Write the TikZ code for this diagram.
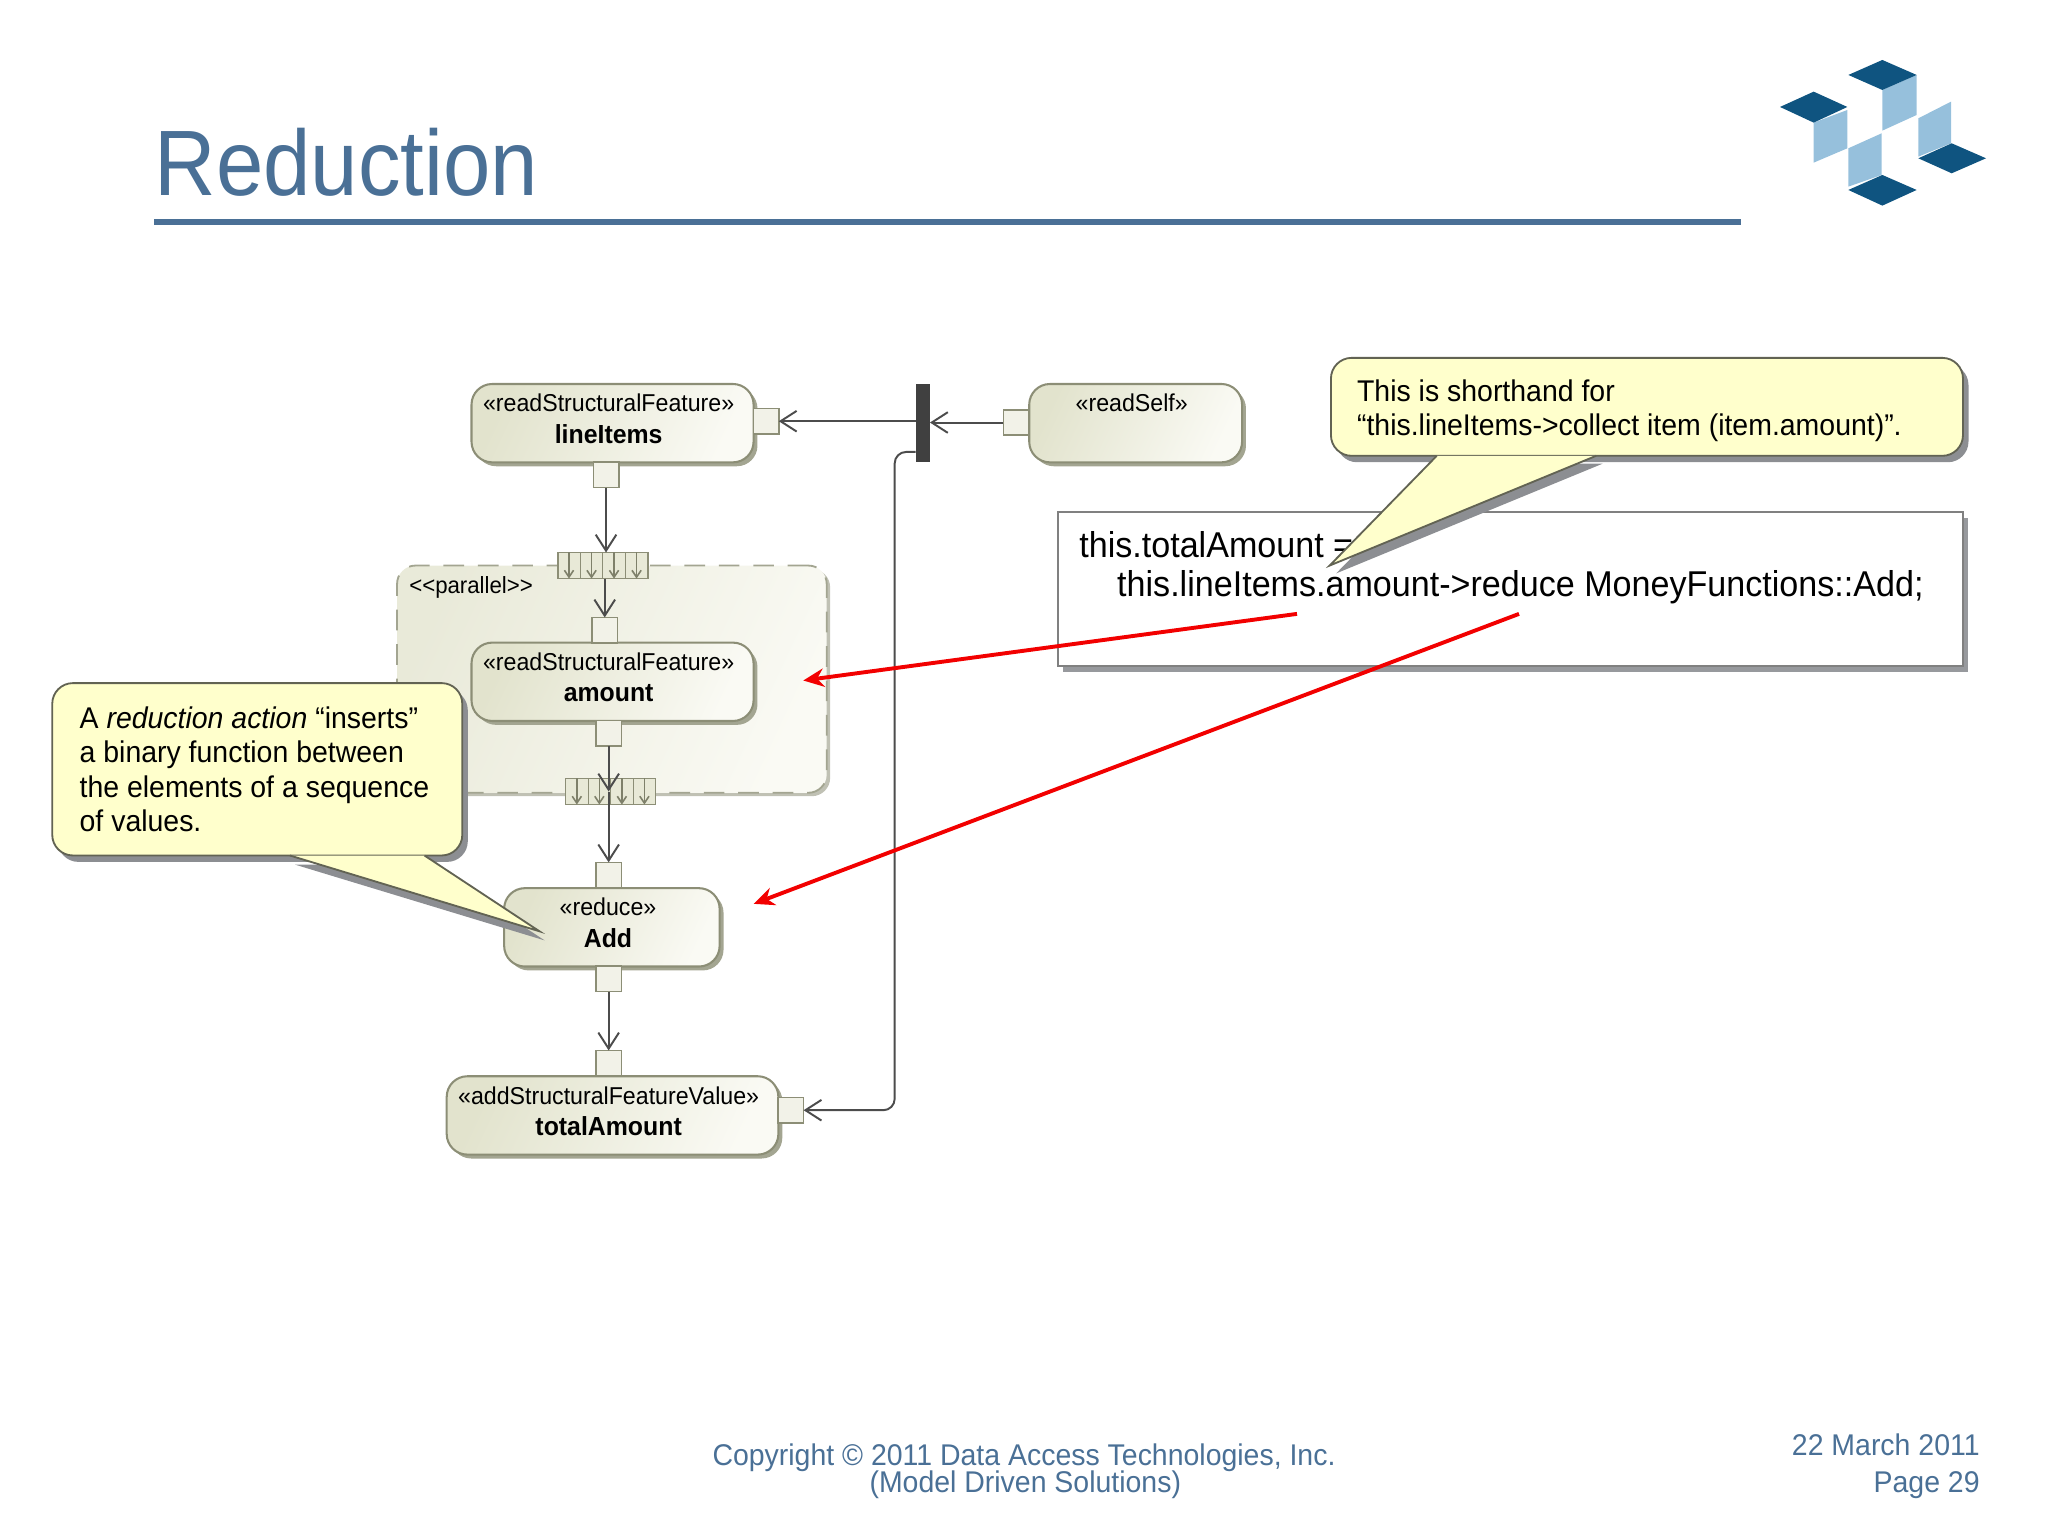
\documentclass[tikz,border=0pt]{standalone}
\usepackage{xcolor}
\usepackage{fontspec}
\setmainfont[FakeStretch=0.95]{Liberation Sans}
\newfontfamily\titlefont[FakeStretch=0.916]{Liberation Sans}
\usetikzlibrary{arrows.meta,calc,shadows}
\definecolor{slideblue}{RGB}{74,112,150}
\definecolor{actionedge}{RGB}{140,142,118}
\definecolor{actionleft}{RGB}{226,227,205}
\definecolor{actionright}{RGB}{250,250,244}
\definecolor{noteyellow}{RGB}{255,255,204}
\definecolor{notegray}{RGB}{140,142,146}
\definecolor{logodark}{RGB}{15,84,128}
\definecolor{logolight}{RGB}{150,192,220}
\tikzset{
    actionbox/.style={draw=actionedge, line width=0.9pt, left color=actionleft, right color=actionright,
        shading angle=65, rounded corners=9pt, inner sep=0pt, outer sep=0pt, minimum height=1.2cm,
        drop shadow={shadow xshift=1.7pt, shadow yshift=-1.7pt, opacity=1, fill=actionedge!80},
        align=center, anchor=north west, font=\fontsize{10.63}{13.6}\selectfont},
    pinbox/.style={draw=actionedge, line width=0.7pt, fill=actionleft!45, inner sep=0pt, outer sep=0pt, minimum size=0.39cm},
    expansionbox/.style={draw=actionedge, line width=0.7pt, fill=actionleft!80, inner sep=0pt, outer sep=0pt,
        minimum width=1.38cm, minimum height=0.4cm},
    regionbox/.style={draw=actionedge!80, dash pattern=on 9pt off 6pt, line width=0.8pt, left color=actionleft!75, right color=actionright,
        shading angle=65, rounded corners=8pt, inner sep=0pt, outer sep=0pt, minimum width=6.58cm, minimum height=3.48cm,
        drop shadow={shadow xshift=1.5pt, shadow yshift=-1.5pt, opacity=1, fill=actionedge!55}},
    flow/.style={draw=black!70, line width=0.85pt, -{Straight Barb[length=7pt,width=9pt]}},
    cellarrow/.style={draw=actionedge!90!black, line width=0.7pt, -{Straight Barb[length=3pt,width=4pt]}},
    redarrow/.style={draw=red!95!black, line width=1.7pt, -{Stealth[length=9pt,width=8pt]}},
    notebody/.style={draw=actionedge!70!black, line width=0.8pt, fill=noteyellow, rounded corners=9pt, anchor=north west,
        inner sep=0pt, outer sep=0pt, drop shadow={shadow xshift=2.4pt, shadow yshift=-2.8pt, opacity=1, fill=notegray},
        align=flush left, font=\fontsize{13.05}{15}\selectfont},
    tailshadow/.style={fill=notegray, draw=none},
    codeline/.style={anchor=base west, inner sep=0pt, font=\fontsize{15.64}{18}\selectfont},
    footer/.style={inner sep=0pt, text=slideblue, font=\fontsize{13.05}{14}\selectfont}
}
\newcommand{\stereotype}[1]{«#1»\hspace*{3.4pt}}
\newcommand{\actionname}[1]{{\fontsize{11.4}{13.6}\selectfont\textbf{#1}}\hspace*{3.4pt}\rule[-4pt]{0pt}{4pt}}
\newcommand{\expansioncells}[1]{
    \foreach \k in {0.25,0.5,0.75}
        \draw[draw=actionedge, line width=0.5pt] ($(#1.north west)!\k!(#1.north east)$) -- ($(#1.south west)!\k!(#1.south east)$);
    \foreach \k in {0.125,0.375,0.625,0.875}
        \draw[cellarrow] ($(#1.north west)!\k!(#1.north east)$) -- ($(#1.south west)!\k!(#1.south east)$);
}
\begin{document}
\begin{tikzpicture}[x=0.02cm, y=-0.02cm]
    \useasboundingbox (0,0) rectangle (1568,1176);

    % Titel
    \node[anchor=base west, inner sep=0pt, text=slideblue, font=\titlefont\fontsize{40.5}{44}\selectfont] (title) at (118,150) {Reduction};
    \draw[slideblue, line width=2.8pt] (118,170) -- (1333,170);

    % Logo
    \begin{scope}[shift={(1347.5,30.6)}, scale=0.2552]
        \fill[logolight] (367,150) -- (470,105) -- (470,225) -- (367,272) -- cycle;
        \fill[logolight] (161,248) -- (262,210) -- (262,325) -- (161,368) -- cycle;
        \fill[logolight] (265,325) -- (365,280) -- (365,405) -- (265,440) -- cycle;
        \fill[logolight] (475,235) -- (573,185) -- (573,310) -- (475,350) -- cycle;
        \fill[logodark] (265,105) -- (367,60) -- (470,105) -- (367,150) -- cycle;
        \fill[logodark] (60,201) -- (161,155) -- (262,201) -- (161,248) -- cycle;
        \fill[logodark] (475,355) -- (575,310) -- (678,355) -- (575,400) -- cycle;
        \fill[logodark] (265,450) -- (367,405) -- (470,450) -- (367,497) -- cycle;
    \end{scope}

    % Bereich parallel
    \node[regionbox, anchor=north west] (region) at (304,433) {};
    \node[anchor=west, inner sep=0pt, font=\fontsize{10.2}{12}\selectfont] (regionlabel) at (313,450) {<{}<parallel>{}>};

    % Aktionen
    \node[actionbox, minimum width=4.32cm] (lineitems) at (361,294) {\stereotype{readStructuralFeature}\\\actionname{lineItems}};
    \node[actionbox, minimum width=3.26cm] (readself) at (788,294) {\stereotype{readSelf}\\\actionname{\phantom{x}}};
    \node[actionbox, minimum width=4.32cm] (amount) at (361,492) {\stereotype{readStructuralFeature}\\\actionname{amount}};
    \node[actionbox, minimum width=3.3cm] (reduce) at (386,680) {\stereotype{reduce}\\\actionname{Add}};
    \node[actionbox, minimum width=5.08cm] (addvalue) at (342,824) {\stereotype{addStructuralFeatureValue}\\\actionname{totalAmount}};

    % Pins
    \node[pinbox] (linepin) at (586.5,322.5) {};
    \node[pinbox] (lineout) at (464,363.5) {};
    \node[pinbox] (selfpin) at (778,323.5) {};
    \node[pinbox] (amountin) at (463,482.5) {};
    \node[pinbox] (amountout) at (466,561.5) {};
    \node[pinbox] (reducein) at (466,670) {};
    \node[pinbox] (reduceout) at (466,749.5) {};
    \node[pinbox] (addin) at (466,814) {};
    \node[pinbox] (addpin) at (605.5,850) {};

    % Expansion
    \node[expansionbox] (extop) at (461.5,433) {};
    \node[expansionbox] (exbottom) at (467.5,606) {};
    \expansioncells{extop}
    \expansioncells{exbottom}

    % Join
    \node[fill=black!75, inner sep=0pt, outer sep=0pt, minimum width=0.22cm, minimum height=1.2cm] (joinbar) at (706.5,324) {};
    \coordinate (joinout) at (701,346);

    % Pfeile
    \draw[flow] (selfpin.west) -- (joinbar.east |- selfpin.west);
    \draw[flow] (joinbar.west |- linepin.east) -- (linepin.east);
    \draw[flow, rounded corners=5pt] (joinout) -- ++(-16,0) |- (addpin.east);
    \draw[flow] (lineout.south) -- (lineout.south |- extop.north);
    \draw[flow] (extop.south -| amountin.north) -- (amountin.north);
    \draw[flow] (amountout.south) -- (amountout.south |- exbottom.center);
    \draw[flow] (exbottom.center -| reducein.north) -- (reducein.north);
    \draw[flow] (reduceout.south) -- (addin.north);

    % Code
    \node[draw=black!50, line width=0.9pt, fill=white, inner sep=0pt, outer sep=0pt, minimum width=13.86cm, minimum height=2.36cm,
        anchor=north west, drop shadow={shadow xshift=2.4pt, shadow yshift=-2.4pt, opacity=1, fill=notegray!90}] (codebox) at (810,392) {};
    \node[codeline] (codeone) at (826,427) {this.totalAmount =};
    \node[codeline] (codetwo) at (855,457) {this.lineItems.amount->reduce MoneyFunctions::Add;};

    % Hinweis rechts
    \fill[tailshadow] (1105,355) -- (1227,355) -- (1023,439) -- cycle;
    \node[notebody, text width=9.68cm, minimum height=1.5cm] (shorthand) at (1019,274) {\rule{0pt}{13pt}\hspace*{0.4cm}This is shorthand for\\\hspace*{0.4cm}“this.lineItems->collect item (item.amount)”.};
    \coordinate (shorthandtip) at (1018,433);
    \coordinate (shorthanda) at (1100,349);
    \coordinate (shorthandb) at (1222,349);
    \fill[noteyellow] (shorthanda) -- (shorthandb) -- (shorthandtip) -- cycle;
    \draw[draw=actionedge!70!black, line width=0.8pt] (shorthanda) -- (shorthandtip) -- (shorthandb);

    % Hinweis links
    \fill[tailshadow] (226,662) -- (329,662) -- (417,720) -- cycle;
    \node[notebody, text width=6.28cm, minimum height=2.64cm] (reduction) at (40,523) {\hspace*{0.42cm}A \textit{reduction action} “inserts”\\\hspace*{0.42cm}a binary function between\\\hspace*{0.42cm}the elements of a sequence\\\hspace*{0.42cm}of values.};
    \coordinate (reductiontip) at (413,713);
    \coordinate (reductiona) at (222,655);
    \coordinate (reductionb) at (325,655);
    \fill[noteyellow] (reductiona) -- (reductionb) -- (reductiontip) -- cycle;
    \draw[draw=actionedge!70!black, line width=0.8pt] (reductiona) -- (reductiontip) -- (reductionb);

    % Rote Pfeile
    \coordinate (redone) at (993,470);
    \coordinate (redonetip) at (615,521);
    \coordinate (redtwo) at (1163,470);
    \coordinate (redtwotip) at (577,692);
    \draw[redarrow] (redone) -- (redonetip);
    \draw[redarrow] (redtwo) -- (redtwotip);

    % Fusszeile
    \node[footer] (copyone) at (784,1116) {Copyright © 2011 Data Access Technologies, Inc.};
    \node[footer] (copytwo) at (785,1137) {(Model Driven Solutions)};
    \node[footer, anchor=east] (datenote) at (1516,1106) {22 March 2011};
    \node[footer, anchor=east] (pagenote) at (1516,1137) {Page 29};
\end{tikzpicture}
\end{document}
